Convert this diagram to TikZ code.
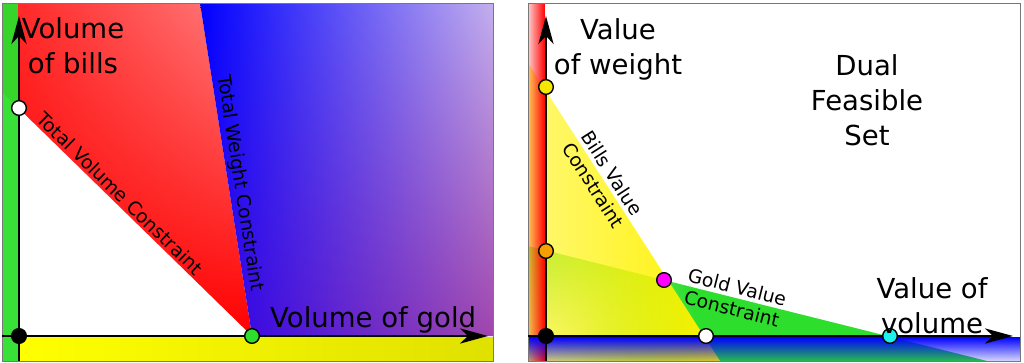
\documentclass[tikz,border=0pt]{standalone}
\usepackage{fontspec}
\setmainfont{DejaVu Sans}
\usetikzlibrary{arrows.meta,shadings,fadings}
\definecolor{lgreen}{RGB}{45,222,45}
\definecolor{lred}{RGB}{255,130,130}
\definecolor{dred}{RGB}{255,35,35}
\definecolor{lav}{RGB}{195,175,238}
\definecolor{plum}{RGB}{160,70,172}
\definecolor{bluish}{RGB}{40,0,235}
\definecolor{framegray}{RGB}{120,120,120}
\definecolor{dotyellow}{RGB}{245,232,0}
\definecolor{dotorange}{RGB}{245,160,0}
\definecolor{dotcyan}{RGB}{30,240,240}
\definecolor{dotmag}{RGB}{255,0,255}
\tikzfading[name=fadepink, left color=transparent!80, right color=transparent!0]
\tikzfading[name=fadestrip, top color=transparent!0, bottom color=transparent!85]
\tikzfading[name=fadeyellow, left color=transparent!45, right color=transparent!0]
\tikzfading[name=fadeglow, inner color=transparent!0, outer color=transparent!100]
\tikzset{
  dot/.style={circle,draw=black,line width=1.2pt,inner sep=0,minimum size=12.5pt},
  axis/.style={line width=1.6pt,-{Stealth[length=24pt,width=13pt,inset=7pt]}},
  panel/.style={draw=framegray,line width=0.8pt},
  biglbl/.style={font=\fontsize{23.5}{30}\selectfont,align=center,inner sep=0},
  cstr/.style={font=\fontsize{16}{19}\selectfont,align=center,inner sep=2pt}
}
\begin{document}
\begin{tikzpicture}[x=0.03cm,y=-0.03cm]
  \useasboundingbox (0,0) rectangle (1024,363);
  % primal
  \shade[upper left=dred,upper right=lred,lower left=red,lower right=red]
    (2,3) -- (200,3) -- (252,336) -- (2,92) -- cycle;
  \shade[upper left=blue,upper right=lav,lower left=bluish,lower right=plum]
    (200,3) -- (493,3) -- (493,336) -- (252,336) -- cycle;
  \fill[lgreen,opacity=.95] (2,3) rectangle (18,361);
  \shade[left color=yellow,right color=yellow!88!black] (19,337) rectangle (493,361);
  \draw[panel] (2,3) rectangle (493,361);

  \coordinate (ybot1) at (19,361);
  \coordinate (ytop1) at (19,16);
  \coordinate (xbeg1) at (2,336);
  \coordinate (xend1) at (488,336);
  \coordinate (wtop) at (200,3);
  \draw[axis] (ybot1) -- (ytop1);
  \draw[axis] (xbeg1) -- (xend1);

  \node[dot,fill=black] (orig1) at (19,336) {};
  \node[dot,fill=white] (bills1) at (19,108) {};
  \node[dot,fill=lgreen] (gold1) at (252,336) {};

  \path (bills1) -- (gold1) node[cstr,pos=.40,sloped,above] {Total Volume Constraint};
  \path (wtop) -- (gold1) node[cstr,pos=.56,sloped,above] {Total Weight Constraint};
  \node[biglbl,anchor=north] (ylbl1) at (73,17) {Volume\\of bills};
  \node[biglbl,anchor=base west] (xlbl1) at (270,327) {Volume of gold};

  % dual
  \fill[lgreen] (528,246) -- (987,361) -- (528,361) -- cycle;
  \begin{scope}
    \clip (528,246) -- (987,361) -- (528,361) -- cycle;
    \fill[white,path fading=fadeglow] (548,345) circle (150);
  \end{scope}
  \fill[yellow,path fading=fadeyellow] (528,63) -- (720,361) -- (528,361) -- cycle;
  \fill[red,path fading=fadepink] (528,3) rectangle (545,361);
  \fill[blue,path fading=fadestrip] (528,337) rectangle (1020,361);
  \draw[panel] (528,3) rectangle (1020,361);

  \coordinate (ybot2) at (546,361);
  \coordinate (ytop2) at (546,16);
  \coordinate (xbeg2) at (528,336);
  \coordinate (xend2) at (1013,336);
  \coordinate (bl1) at (528,63);
  \coordinate (bl2) at (720,361);
  \coordinate (gl1) at (528,246);
  \coordinate (gl2) at (987,361);
  \draw[axis] (ybot2) -- (ytop2);
  \draw[axis] (xbeg2) -- (xend2);

  \node[dot,fill=black] (orig2) at (546,336) {};
  \node[dot,fill=dotyellow] (wv) at (546,87) {};
  \node[dot,fill=dotorange] (wg) at (546,251) {};
  \node[dot,fill=dotmag] (opt) at (664,280) {};
  \node[dot,fill=white] (vb) at (706,336) {};
  \node[dot,fill=dotcyan] (vg) at (890,336) {};

  \path (bl1) -- (bl2) node[cstr,pos=.39,sloped] {Bills Value\\Constraint};
  \path (gl1) -- (gl2) node[cstr,pos=.45,sloped] {Gold Value\\Constraint};
  \node[biglbl,anchor=north] (ylbl2) at (618,18) {Value\\of weight};
  \node[biglbl,anchor=north] (dfs) at (867,54) {Dual\\Feasible\\Set};
  \node[biglbl,anchor=north] (xlbl2) at (932,277) {Value of\\volume};
\end{tikzpicture}
\end{document}
